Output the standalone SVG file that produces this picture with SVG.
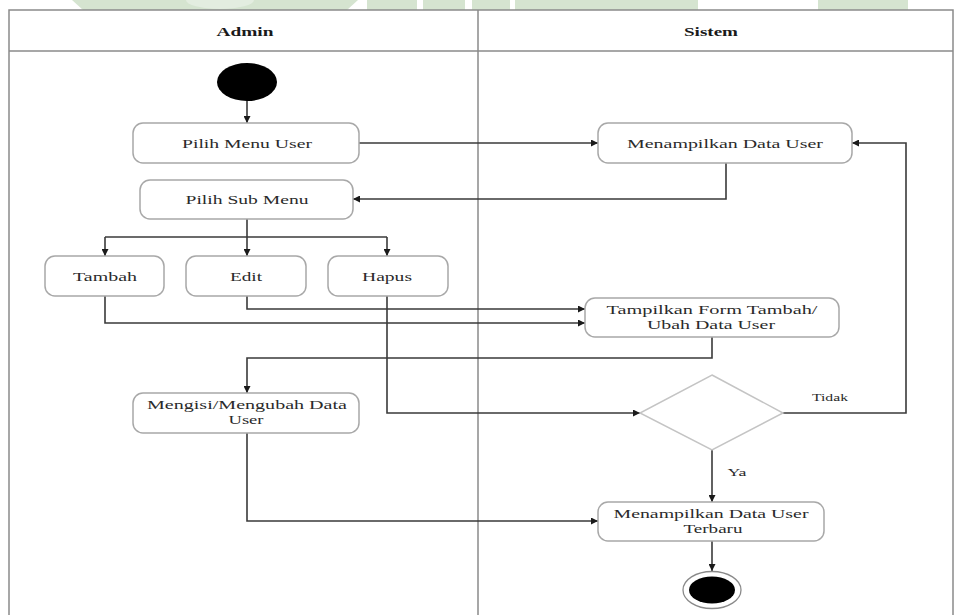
<svg xmlns="http://www.w3.org/2000/svg" width="955" height="615" viewBox="0 0 955 615">
  <style>
    .wm { fill: #d5e4d0; }
    .frame { fill: none; stroke: #8a8a8a; stroke-width: 1.5; }
    .act { fill: #ffffff; stroke: #a8a8a8; stroke-width: 1.5; }
    .dec { fill: #ffffff; stroke: #c4c4c4; stroke-width: 1.5; }
    .lbl { font-family: "Liberation Serif", "Times New Roman", serif; font-size: 13px; fill: #2a2a2a; text-anchor: middle; }
    .hdr { font-family: "Liberation Serif", "Times New Roman", serif; font-size: 13px; font-weight: bold; fill: #1a1a1a; text-anchor: middle; }
    .small { font-size: 10px; }
    .conn { fill: none; stroke: #3a3a3a; stroke-width: 1.6; }
    .arr { marker-end: url(#arrow); }
  </style>
  <defs>
    <marker id="arrow" viewBox="0 0 10 10" refX="10" refY="5" markerWidth="8" markerHeight="7" markerUnits="userSpaceOnUse" orient="auto">
      <path d="M0,0 L10,5 L0,10 z" fill="#1a1a1a"/>
    </marker>
  </defs>

  <rect x="0" y="0" width="955" height="615" fill="#ffffff"/>

  <!-- light green band along the top edge -->
  <g id="band">
    <polygon class="wm" points="72,0 358,0 347,10 83,10"/>
    <ellipse cx="220" cy="0" rx="34" ry="9" fill="#e3ede0"/>
    <rect class="wm" x="367" y="0" width="50" height="10"/>
    <rect class="wm" x="423" y="0" width="42" height="10"/>
    <rect class="wm" x="472" y="0" width="38" height="10"/>
    <rect class="wm" x="515" y="0" width="183" height="10"/>
    <rect class="wm" x="818" y="0" width="90" height="10"/>
  </g>

  <!-- swimlane frame -->
  <g id="lanes">
    <path class="frame" d="M9,615 V10 H953 V615"/>
    <line class="frame" x1="9" y1="51" x2="953" y2="51"/>
    <line class="frame" x1="478" y1="10" x2="478" y2="615" stroke="#555"/>
    <text class="hdr" x="245" y="36" textLength="57" lengthAdjust="spacingAndGlyphs">Admin</text>
    <text class="hdr" x="711" y="36" textLength="54" lengthAdjust="spacingAndGlyphs">Sistem</text>
  </g>

  <!-- connectors -->
  <g id="connectors">
    <path class="conn arr" d="M247,101 V123"/>
    <path class="conn arr" d="M359,143 H598"/>
    <path class="conn arr" d="M726,163 V199 H353"/>
    <path class="conn arr" d="M247,219 V256"/>
    <path class="conn" d="M105,237 H387"/>
    <path class="conn arr" d="M105,237 V256"/>
    <path class="conn arr" d="M387,237 V256"/>
    <path class="conn arr" d="M247,296 V309 H585"/>
    <path class="conn arr" d="M105,296 V323 H585"/>
    <path class="conn arr" d="M712,337 V358 H247 V393"/>
    <path class="conn arr" d="M387,296 V413 H640"/>
    <path class="conn arr" d="M783,413 H906 V143 H852" stroke="#6a6a6a"/>
    <path class="conn arr" d="M712,450 V502"/>
    <path class="conn arr" d="M247,433 V521 H598"/>
    <path class="conn arr" d="M712,541 V571"/>
    <text class="lbl small" x="830" y="401" textLength="36" lengthAdjust="spacingAndGlyphs">Tidak</text>
    <text class="lbl small" x="737" y="476" textLength="19" lengthAdjust="spacingAndGlyphs">Ya</text>
  </g>

  <!-- nodes -->
  <g id="start">
    <ellipse cx="247" cy="82" rx="30" ry="19" fill="#000000"/>
  </g>

  <g id="pilih-menu-user">
    <rect class="act" x="133" y="123" width="226" height="40" rx="10"/>
    <text class="lbl" x="247" y="148" textLength="130" lengthAdjust="spacingAndGlyphs">Pilih Menu User</text>
  </g>

  <g id="menampilkan-data-user">
    <rect class="act" x="598" y="123" width="254" height="40" rx="10"/>
    <text class="lbl" x="725" y="148" textLength="196" lengthAdjust="spacingAndGlyphs">Menampilkan Data User</text>
  </g>

  <g id="pilih-sub-menu">
    <rect class="act" x="140" y="180" width="213" height="39" rx="10"/>
    <text class="lbl" x="247" y="204" textLength="123" lengthAdjust="spacingAndGlyphs">Pilih Sub Menu</text>
  </g>

  <g id="tambah">
    <rect class="act" x="45" y="256" width="119" height="40" rx="10"/>
    <text class="lbl" x="105" y="281" textLength="64" lengthAdjust="spacingAndGlyphs">Tambah</text>
  </g>

  <g id="edit">
    <rect class="act" x="186" y="256" width="120" height="40" rx="10"/>
    <text class="lbl" x="246" y="281" textLength="32" lengthAdjust="spacingAndGlyphs">Edit</text>
  </g>

  <g id="hapus">
    <rect class="act" x="328" y="256" width="120" height="40" rx="10"/>
    <text class="lbl" x="387" y="281" textLength="50" lengthAdjust="spacingAndGlyphs">Hapus</text>
  </g>

  <g id="tampilkan-form">
    <rect class="act" x="585" y="298" width="254" height="39" rx="10"/>
    <text class="lbl" x="712" y="314" textLength="211" lengthAdjust="spacingAndGlyphs">Tampilkan Form Tambah/</text>
    <text class="lbl" x="711" y="329" textLength="128" lengthAdjust="spacingAndGlyphs">Ubah Data User</text>
  </g>

  <g id="mengisi-data">
    <rect class="act" x="133" y="393" width="226" height="40" rx="10"/>
    <text class="lbl" x="247" y="409" textLength="200" lengthAdjust="spacingAndGlyphs">Mengisi/Mengubah Data</text>
    <text class="lbl" x="246" y="424" textLength="35" lengthAdjust="spacingAndGlyphs">User</text>
  </g>

  <g id="decision">
    <polygon class="dec" points="712,375 783,413 712,450 640,413"/>
  </g>

  <g id="menampilkan-terbaru">
    <rect class="act" x="598" y="502" width="226" height="39" rx="10"/>
    <text class="lbl" x="711" y="518" textLength="195" lengthAdjust="spacingAndGlyphs">Menampilkan Data User</text>
    <text class="lbl" x="713" y="533" textLength="59" lengthAdjust="spacingAndGlyphs">Terbaru</text>
  </g>

  <g id="end">
    <ellipse cx="712" cy="590" rx="29" ry="18.5" fill="#ffffff" stroke="#8a8a8a" stroke-width="1.3"/>
    <ellipse cx="712" cy="590" rx="23" ry="13.5" fill="#000000"/>
  </g>
</svg>
